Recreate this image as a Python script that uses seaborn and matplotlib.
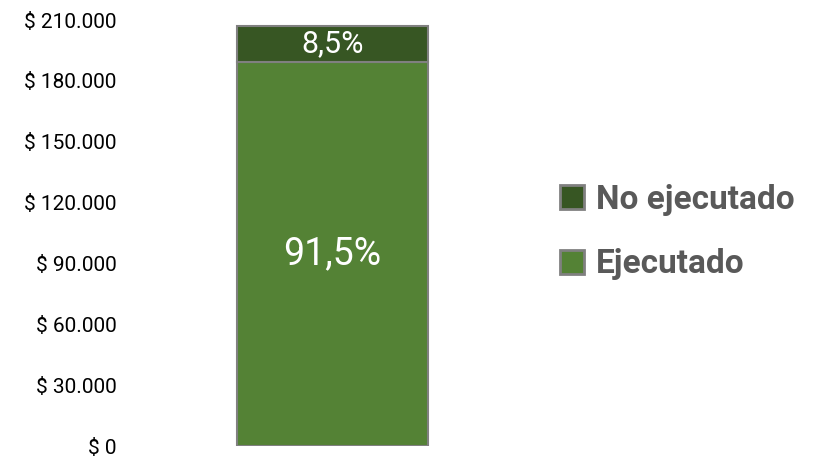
import matplotlib
matplotlib.use("Agg")
import matplotlib.pyplot as plt
import seaborn as sns
import pandas as pd
from matplotlib.patches import Patch
from matplotlib.ticker import FuncFormatter

categories = ["Presupuesto"]
ejecutado = [189400]
no_ejecutado = [17600]
series_names = ["Ejecutado", "No ejecutado"]
colors = {"Ejecutado": "#548235", "No ejecutado": "#375623"}
yticks = [0, 30000, 60000, 90000, 120000, 150000, 180000, 210000]

sns.set_theme(style="white")
plt.rcParams['font.family'] = ['Roboto', 'DejaVu Sans']

df = pd.DataFrame({"cat": categories, "Ejecutado": ejecutado, "No ejecutado": no_ejecutado})

fig = plt.figure(figsize=(8.23, 4.57), dpi=100)
ax = fig.add_axes([125/823, 11/457, 415/823, 426/457])

w = 0.458
sns.barplot(data=df, x="cat", y="Ejecutado", color=colors["Ejecutado"], width=w,
            edgecolor="#808080", linewidth=1.5, saturation=1, ax=ax)
sns.barplot(data=df, x="cat", y="No ejecutado", color=colors["No ejecutado"], width=w,
            bottom=df["Ejecutado"], edgecolor="#808080", linewidth=1.5, saturation=1, ax=ax)

total = df["Ejecutado"] + df["No ejecutado"]
for i in range(len(df)):
    e = df["Ejecutado"].iloc[i]
    n = df["No ejecutado"].iloc[i]
    t = total.iloc[i]
    ax.text(i, e / 2, f"{e / t * 100:.1f}%".replace(".", ","), ha="center", va="center",
            color="white", fontsize=27)
    ax.text(i, e + n / 2, f"{n / t * 100:.1f}%".replace(".", ","), ha="center", va="center",
            color="white", fontsize=22)

ax.set_xlim(-0.5, 0.5)
ax.set_ylim(0, 210000)
ax.set_yticks(yticks)
ax.yaxis.set_major_formatter(FuncFormatter(lambda v, p: "$ " + f"{int(v):,}".replace(",", ".")))
ax.tick_params(axis="y", labelsize=15, colors="black", length=0, pad=6)
ax.set_xticks([])
ax.set_xlabel("")
ax.set_ylabel("")
for s in ax.spines.values():
    s.set_visible(False)

handles = [Patch(facecolor=colors[n], edgecolor="#808080", linewidth=2, label=n)
           for n in ["No ejecutado", "Ejecutado"]]
leg = fig.legend(handles=handles, loc="center left", bbox_to_anchor=(560/823, 1 - 232/457),
                 frameon=False, prop={"weight": "bold", "size": 24}, labelcolor="#595959",
                 handlelength=0.72, handleheight=0.72, handletextpad=0.35, labelspacing=0.98,
                 borderpad=0, borderaxespad=0)

fig.savefig("out.png", dpi=100)
